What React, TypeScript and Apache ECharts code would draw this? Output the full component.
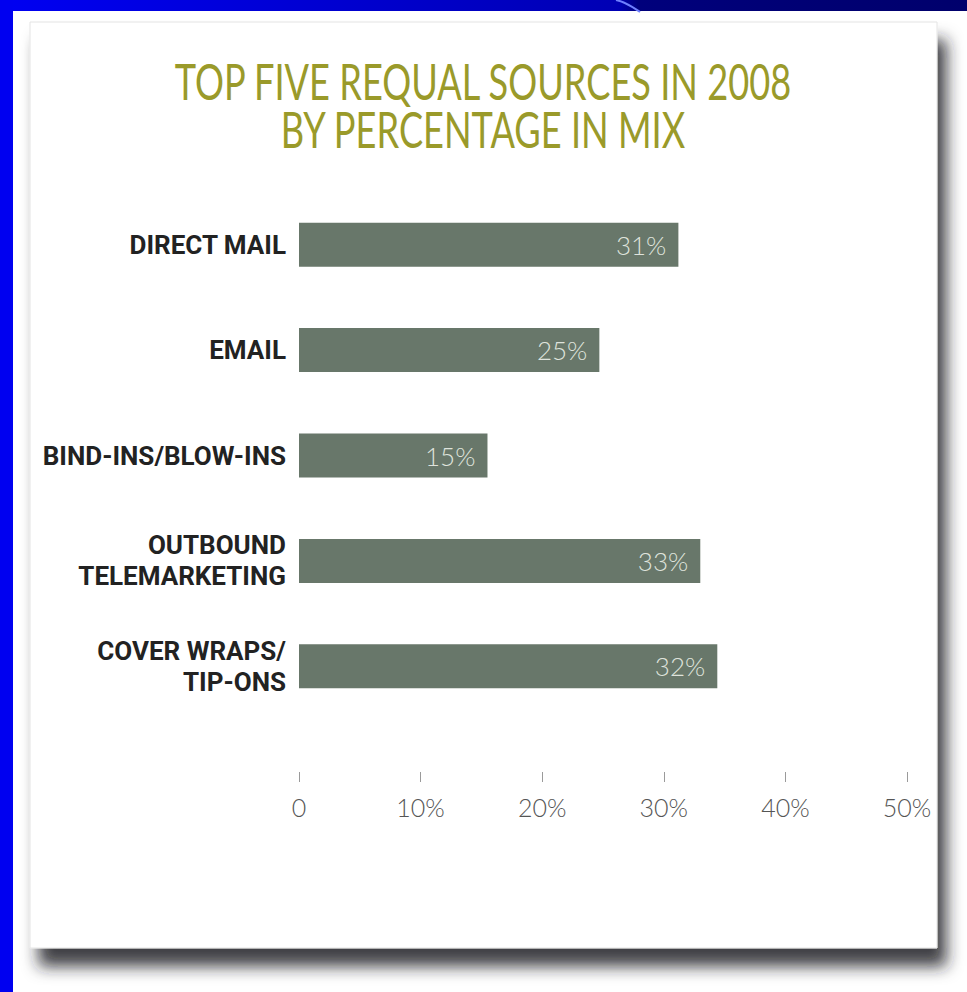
import React, { useEffect, useRef } from "react";
import * as echarts from "echarts";

const categories = [
  "DIRECT MAIL",
  "EMAIL",
  "BIND-INS/BLOW-INS",
  "OUTBOUND\nTELEMARKETING",
  "COVER WRAPS/\nTIP-ONS",
];
// bar lengths as drawn in the picture (percent)
const barValues = [31.2, 24.7, 15.5, 33.0, 34.4];
// the labels printed inside the bars
const valueLabels = ["31%", "25%", "15%", "33%", "32%"];
const axisMin = 0;
const axisMax = 50;
const axisStep = 10;
const titleText = "TOP FIVE REQUAL SOURCES IN 2008\nBY PERCENTAGE IN MIX";

export default function App() {
  const ref = useRef<HTMLDivElement>(null);
  useEffect(() => {
    document.body.style.margin = "0";
    const chart = echarts.init(ref.current!, null, { renderer: "svg" });
    chart.setOption({
      animation: false,
      backgroundColor: "#ffffff",
      graphic: {
        elements: [
          {
            type: "rect",
            z: 0,
            shape: { x: 0, y: 0, width: 967, height: 11 },
            style: {
              fill: new echarts.graphic.LinearGradient(0, 0, 1, 0, [
                { offset: 0, color: "#0000f2" },
                { offset: 0.64, color: "#0000b4" },
                { offset: 0.66, color: "#00007c" },
                { offset: 1, color: "#00006c" },
              ]),
            },
          },
          {
            type: "bezierCurve",
            z: 1,
            shape: { x1: 616, y1: 0, x2: 640, y2: 12, cpx1: 626, cpy1: 2, cpx2: 634, cpy2: 8 },
            style: { stroke: "#7080ff", lineWidth: 2, fill: null },
          },
          {
            type: "rect",
            z: 0,
            shape: { x: 0, y: 0, width: 13, height: 992 },
            style: { fill: "#0000f0" },
          },
          {
            type: "rect",
            z: 0,
            shape: { x: 30, y: 22, width: 907, height: 926 },
            style: {
              fill: "#ffffff",
              stroke: "#e4e4e4",
              lineWidth: 1,
              shadowBlur: 16,
              shadowOffsetX: 9,
              shadowOffsetY: 18,
              shadowColor: "rgba(30,30,40,0.85)",
            },
          },
          {
            type: "text",
            z: 10,
            x: 483,
            y: 56,
            scaleX: 0.71,
            style: {
              text: titleText,
              fontFamily: "Lato",
              fontWeight: 400,
              fontSize: 51,
              lineHeight: 48,
              fill: "#9a9a2a",
              textAlign: "center",
              textVerticalAlign: "top",
            },
          },
        ],
      },
      grid: { left: 299, right: 60, top: 192, bottom: 273, containLabel: false },
      xAxis: {
        type: "value",
        min: axisMin,
        max: axisMax,
        interval: axisStep,
        offset: 53,
        splitLine: { show: false },
        axisLine: { show: false },
        axisTick: { show: true, length: 10, lineStyle: { color: "#9a9a9a", width: 1 } },
        axisLabel: {
          margin: 22,
          color: "#555555",
          fontFamily: "Lato",
          fontWeight: 300,
          fontSize: 25,
          formatter: (v: number) => (v === 0 ? "0" : v + "%"),
        },
      },
      yAxis: {
        type: "category",
        data: categories,
        inverse: true,
        axisLine: { show: false },
        axisTick: { show: false },
        axisLabel: {
          margin: 13,
          color: "#222222",
          fontFamily: "Roboto",
          fontWeight: "bold",
          fontSize: 26,
          lineHeight: 31,
          align: "right",
        },
      },
      series: [
        {
          type: "bar",
          data: barValues,
          barWidth: 44,
          itemStyle: { color: "#68776a" },
          label: {
            show: true,
            position: "insideRight",
            distance: 12,
            color: "#dfe3dc",
            fontFamily: "Lato",
            fontWeight: 300,
            fontSize: 26,
            formatter: (p: any) => valueLabels[p.dataIndex],
          },
        },
      ],
    });
    return () => chart.dispose();
  }, []);
  return (
    <div
      ref={ref}
      style={{ position: "absolute", left: 0, top: 0, width: 967, height: 992 }}
    />
  );
}
